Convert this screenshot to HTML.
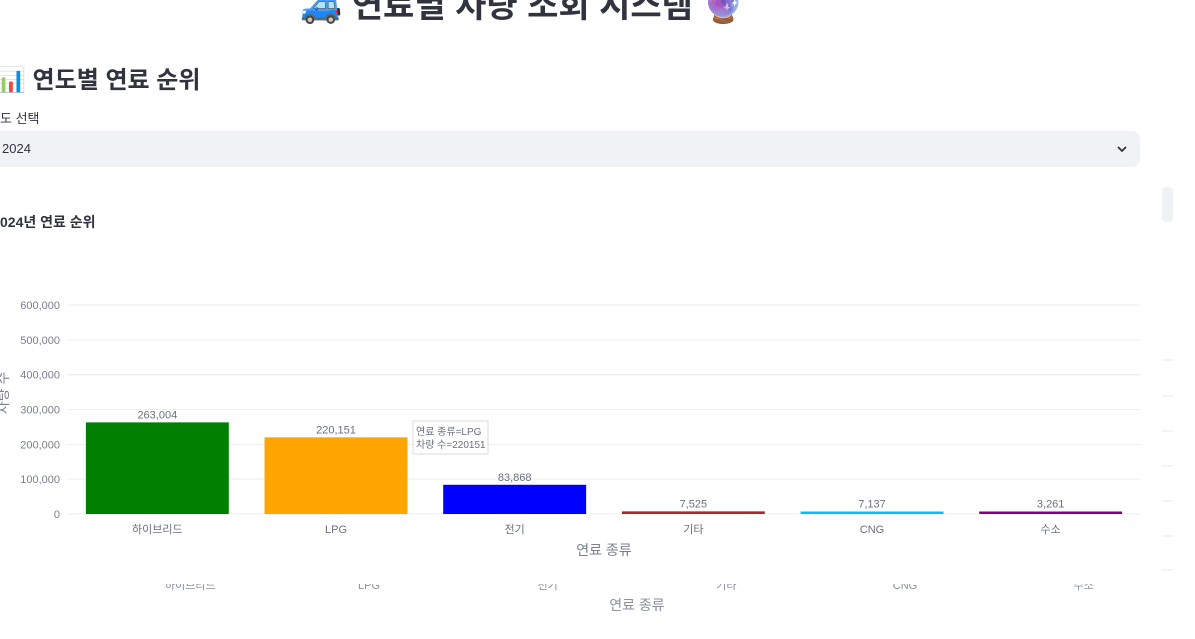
<!DOCTYPE html>
<html><head><meta charset="utf-8"><style>
body{margin:0;width:1195px;height:639px;overflow:hidden;background:#fff;position:relative;font-family:"Liberation Sans","Noto Sans CJK KR",sans-serif;color:#31333f}
.abs{position:absolute}
</style></head><body>
<div class="abs" style="left:300px;top:-22px;font-size:34px;font-weight:bold;white-space:nowrap">🚙 연료별 차량 조회 시스템 🔮</div>
<div class="abs" style="left:-4px;top:60px;font-size:24px;font-weight:bold;white-space:nowrap">📊 연도별 연료 순위</div>
<div class="abs" style="left:0;top:108px;font-size:13px">도 선택</div>
<div class="abs" style="left:-10px;top:131px;width:1150px;height:36px;background:#f0f2f6;border-radius:8px;">
<span style="position:absolute;left:12px;top:10px;font-size:13px">2024</span>
<svg style="position:absolute;right:12px;top:12px" width="12" height="12"><path d="M2 4 L6 8 L10 4" stroke="#31333f" stroke-width="1.8" fill="none"/></svg>
</div>
<div class="abs" style="left:1162px;top:187px;width:11px;height:35px;background:#f0f2f6;border-radius:4px"></div>
<div class="abs" style="left:0;top:212px;font-size:14px;font-weight:bold">024년 연료 순위</div>
<svg class="abs" style="left:0;top:0" width="1195" height="639" id="chart"></svg>
<script>
const categories=["하이브리드","LPG","전기","기타","CNG","수소"];
const values=[263004,220151,83868,7525,7137,3261];
const colors=["#008000","#ffa500","#0000ff","#a52a2a","#00bfff","#800080"];
const ticks=[0,100000,200000,300000,400000,500000,600000];
const svg=document.getElementById('chart');
const NS='http://www.w3.org/2000/svg';
const L=68,R=1140,Y0=514,Y1=305,MAX=600000;
const y=v=>Y0-(v/MAX)*(Y0-Y1);
const band=(R-L)/categories.length;
const xc=i=>L+band*(i+0.5);
function mk(t,a,txt){const e=document.createElementNS(NS,t);for(const k in a)e.setAttribute(k,a[k]);if(txt!==undefined)e.textContent=txt;svg.appendChild(e);return e;}
const F='"Liberation Sans","Noto Sans CJK KR",sans-serif';
[360,396,431,466,501,536,570].forEach(yy=>{const e=mk('line',{x1:1162,x2:1173,y1:yy,y2:yy,stroke:'#e6e9ef'});

});
categories.forEach((c,i)=>{
const gl=mk('text',{x:xc(i)+33,y:589,'text-anchor':'middle','font-size':11,fill:'#8a8f9c','font-family':F},c);


});
const cover=mk('rect',{x:0,y:560,width:1150,height:24,fill:'#fff'});


ticks.forEach(t=>{
const g=mk('line',{x1:L,x2:R,y1:y(t),y2:y(t),stroke:'#eceef3','stroke-width':t===400000?1.5:1});


const l=mk('text',{x:60,y:y(t)+4,'text-anchor':'end','font-size':11,fill:'#7a7f8e','font-family':F},t.toLocaleString('en-US'));


});
const bw=band*0.8;
categories.forEach((c,i)=>{
const h=Math.max(Y0-y(values[i]),2.5);
const b=mk('rect',{x:xc(i)-bw/2,y:Y0-h,width:bw,height:h,fill:colors[i]});


const v=mk('text',{x:xc(i),y:Y0-h-4,'text-anchor':'middle','font-size':11,fill:'#6b7080','font-family':F},values[i].toLocaleString('en-US'));


const xl=mk('text',{x:xc(i),y:533,'text-anchor':'middle','font-size':11,fill:'#6b7080','font-family':F},c);


});
const xt=mk('text',{x:604,y:555,'text-anchor':'middle','font-size':14,fill:'#7a7f8e','font-family':F},'연료 종류');


const gx=mk('text',{x:637,y:610,'text-anchor':'middle','font-size':14,fill:'#8a8f9c','font-family':F},'연료 종류');


const yt=mk('text',{x:0,y:0,'text-anchor':'middle','font-size':14,fill:'#7a7f8e','font-family':F,transform:'translate(8,393) rotate(-90)'},'차량 수');


const tb=mk('rect',{x:413,y:421,width:75,height:33,fill:'#fff',stroke:'#d8dbe2'});


const t1=mk('text',{x:416,y:435,'font-size':10,fill:'#6b7080','font-family':F},'연료 종류=LPG');


const t2=mk('text',{x:416,y:448,'font-size':10,fill:'#6b7080','font-family':F},'차량 수=220151');


</script>
</body></html>
